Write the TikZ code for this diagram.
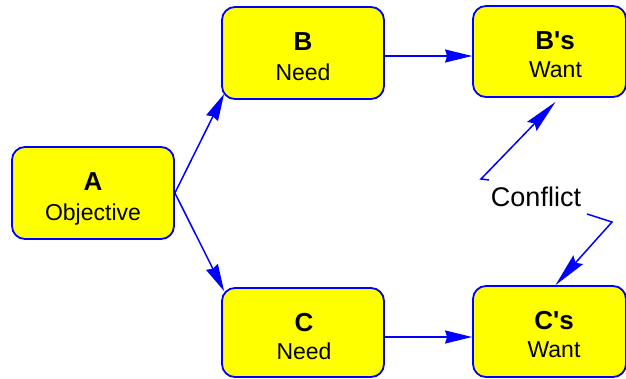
\documentclass[tikz,border=0pt]{standalone}
\usepackage{fontspec}
\setmainfont{Liberation Sans}[Ligatures=TeXOff]
\usetikzlibrary{arrows.meta}
\definecolor{boxfill}{RGB}{255,255,0}
\definecolor{edgeblue}{RGB}{0,0,255}
\begin{document}
\begin{tikzpicture}[x=1pt,y=-1pt,
  box/.style={draw=edgeblue, fill=boxfill, line width=1.8pt, rounded corners=13pt,
    inner sep=0pt, minimum width=162pt, minimum height=92pt},
  title/.style={anchor=base, font=\fontsize{26}{30}\selectfont\bfseries},
  sub/.style={anchor=base, font=\fontsize{23}{27}\selectfont},
  link/.style={draw=edgeblue, line width=1.5pt,
    -{Stealth[length=27pt,width=13pt,inset=2pt]}},
  clash/.style={draw=edgeblue, line width=1.5pt,
    -{Stealth[length=34pt,width=13pt,inset=4pt]}}]
  \useasboundingbox (0,0) rectangle (626,378);

  % boxes
  \node[box] (A) at (93,193) {};
  \node[box] (B) at (303,53) {};
  \node[box, minimum width=153pt, minimum height=91pt] (Bw) at (549.5,51.5) {};
  \node[box, minimum height=89pt] (C) at (303,332.5) {};
  \node[box, minimum width=153pt, minimum height=91pt] (Cw) at (549.5,331.5) {};

  % box texts
  \node[title] (At) at (93,190.7) {A};
  \node[sub]   (As) at (93,220) {Objective};
  \node[title] (Bt) at (303,50) {B};
  \node[sub]   (Bs) at (303,80) {Need};
  \node[title] (Bwt) at (555,49.3) {B's};
  \node[sub]   (Bws) at (555.5,77.7) {Want};
  \node[title] (Ct) at (304,331) {C};
  \node[sub]   (Cs) at (304,359.3) {Need};
  \node[title] (Cwt) at (554,329.3) {C's};
  \node[sub]   (Cws) at (554,357.3) {Want};

  % conflict label
  \node[anchor=base, font=\fontsize{27}{31}\selectfont] (K) at (536,206) {Conflict};

  % connectors
  \draw[link] (A.east) -- ([xshift=3pt,yshift=6pt]B.south west);
  \draw[link] (A.east) -- ([xshift=3pt,yshift=-4pt]C.north west);
  \draw[link] ([yshift=-3pt]B.east) -- ([yshift=-3pt]B.east -| Bw.west);
  \draw[link] ([yshift=-4.5pt]C.east) -- ([yshift=-4.5pt]C.east -| Cw.west);

  % conflict zigzags
  \coordinate (k1) at (489,180);
  \coordinate (k2) at (481,179);
  \coordinate (k3) at (587,214);
  \coordinate (k4) at (612,222);
  \draw[clash] (k1) -- (k2) -- ([xshift=6pt,yshift=-4pt]Bw.south);
  \draw[clash] (k3) -- (k4) -- ([xshift=6pt]Cw.north);
\end{tikzpicture}
\end{document}
